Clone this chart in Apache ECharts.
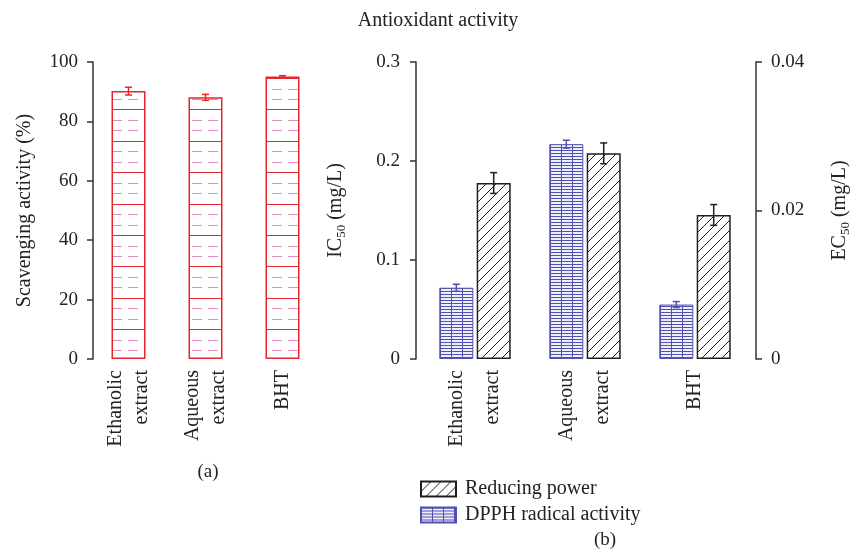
<!DOCTYPE html>
<html>
<head>
<meta charset="utf-8">
<script src="https://cdn.jsdelivr.net/npm/echarts@6/dist/echarts.min.js"></script>
<style>html,body{margin:0;padding:0;background:#fff}#c{width:858px;height:550px}</style>
</head>
<body>
<div id="c"></div>
<script>
// ---- data ----
const leftCategories = ['Ethanolic\nextract', 'Aqueous\nextract', 'BHT'];
const rightCategories = ['Ethanolic\nextract', 'Aqueous\nextract', 'BHT'];
const scavenging = [90.2, 88.1, 95.1];
const scavengingErr = [1.3, 1.0, 0.3];
const dpphIC50 = [0.072, 0.217, 0.055];
const dpphErr = [0.0035, 0.004, 0.003];
const reducingEC50 = [0.0237, 0.0277, 0.0194];
const reducingErr = [0.0014, 0.0014, 0.0014];
const leftAxisTicks = { min: 0, max: 100, interval: 20 };
const icAxisTicks = { min: 0, max: 0.3, interval: 0.1 };
const ecAxisTicks = { min: 0, max: 0.04, interval: 0.02 };
const legendNames = ['Reducing power', 'DPPH radical activity'];

// ---- styles ----
const FONT = 'Liberation Serif';
const TXT = '#222';
const AX = '#333';
const RED = '#e5262e';
const PINK = '#e78ac8';
const BLUE = '#5050b0';
const BAR_W = 34;
const BAR_GAP = 3.4;
const CAP = 3.5;
const TICK_FS = 19;
const LABEL_FS = 20;

function makeCanvas(w, h) { const c = document.createElement('canvas'); c.width = w; c.height = h; return c; }

function redPattern() {
  const period = 31.4, h = 157, w = 16;
  const c = makeCanvas(w, h), g = c.getContext('2d');
  g.fillStyle = '#fff'; g.fillRect(0, 0, w, h);
  for (let k = 0; k < 5; k++) {
    const y = 15.3 + k * period;
    g.fillStyle = RED; g.fillRect(0, Math.round(y) % h, w, 1);
    g.fillStyle = PINK;
    g.fillRect(0, Math.round(y + 10.4) % h, 10, 1);
    g.fillRect(0, Math.round(y + 20.9) % h, 10, 1);
  }
  return c;
}
function bluePattern() {
  const c = makeCanvas(11, 3), g = c.getContext('2d');
  g.fillStyle = '#eeeefc'; g.fillRect(0, 0, 11, 3);
  g.fillStyle = BLUE; g.fillRect(0, 0, 11, 1); g.fillRect(0, 0, 1, 3);
  return c;
}
function hatchPattern() {
  const s = 10;
  const c = makeCanvas(s, s), g = c.getContext('2d');
  g.fillStyle = '#fff'; g.fillRect(0, 0, s, s);
  g.strokeStyle = '#1e1e1e'; g.lineWidth = 1;
  g.beginPath();
  g.moveTo(0, s); g.lineTo(s, 0);
  g.moveTo(-1, 1); g.lineTo(1, -1);
  g.moveTo(s - 1, s + 1); g.lineTo(s + 1, s - 1);
  g.stroke();
  return c;
}

function errRender(shift, color) {
  return function (params, api) {
    const i = api.value(0), v = api.value(1), e = api.value(2);
    const top = api.coord([i, v + e]);
    const bot = api.coord([i, v - e]);
    const cx = top[0] + shift;
    const st = { stroke: color, lineWidth: 1.5 };
    return {
      type: 'group',
      children: [
        { type: 'line', shape: { x1: cx, y1: top[1], x2: cx, y2: bot[1] }, style: st },
        { type: 'line', shape: { x1: cx - CAP, y1: top[1], x2: cx + CAP, y2: top[1] }, style: st },
        { type: 'line', shape: { x1: cx - CAP, y1: bot[1], x2: cx + CAP, y2: bot[1] }, style: st }
      ]
    };
  };
}

const axisCommon = {
  axisLine: { show: true, lineStyle: { color: AX, width: 1.5 } },
  axisTick: { show: true, length: 6, lineStyle: { color: AX, width: 1.5 } },
  splitLine: { show: false },
  nameLocation: 'middle',
  nameRotate: 90
};
const richName = {
  a: { fontFamily: FONT, fontSize: LABEL_FS, color: TXT, lineHeight: 24 },
  b: { fontFamily: FONT, fontSize: 13, color: TXT, lineHeight: 24, verticalAlign: 'bottom', padding: [9, 0, 0, 0] }
};

const chart = echarts.init(document.getElementById('c'), null, { renderer: 'canvas' });
const option = {
  animation: false,
  backgroundColor: '#fff',
  textStyle: { fontFamily: FONT, color: TXT },
  grid: [
    { left: 90, top: 62, width: 231, height: 297 },
    { left: 420, top: 62, width: 330, height: 297 }
  ],
  xAxis: [
    { gridIndex: 0, type: 'category', data: leftCategories,
      axisLine: { show: false }, axisTick: { show: false },
      axisLabel: { rotate: 90, margin: 11, fontSize: LABEL_FS, lineHeight: 26, color: TXT, fontFamily: FONT, interval: 0 } },
    { gridIndex: 1, type: 'category', data: rightCategories,
      axisLine: { show: false }, axisTick: { show: false },
      axisLabel: { rotate: 90, margin: 11, fontSize: LABEL_FS, lineHeight: 36, color: TXT, fontFamily: FONT, interval: 0 } }
  ],
  yAxis: [
    Object.assign({ gridIndex: 0, type: 'value', position: 'left', offset: -3 }, leftAxisTicks, axisCommon, {
      axisLabel: { margin: 15, fontSize: TICK_FS, color: TXT, fontFamily: FONT },
      name: 'Scavenging activity (%)', nameGap: 58,
      nameTextStyle: { fontSize: LABEL_FS, color: TXT, fontFamily: FONT }
    }),
    Object.assign({ gridIndex: 1, type: 'value', position: 'left', offset: 4 }, icAxisTicks, axisCommon, {
      axisLabel: { margin: 16, fontSize: TICK_FS, color: TXT, fontFamily: FONT },
      name: '{a|IC}{b|50}{a| (mg/L)}', nameGap: 68,
      nameTextStyle: { rich: richName }
    }),
    Object.assign({ gridIndex: 1, type: 'value', position: 'right', offset: 6 }, ecAxisTicks, axisCommon, {
      axisLabel: { margin: 15, fontSize: TICK_FS, color: TXT, fontFamily: FONT },
      name: '{a|EC}{b|50}{a| (mg/L)}', nameGap: 72,
      nameTextStyle: { rich: richName }
    })
  ],
  legend: {
    orient: 'vertical', left: 415, top: 474,
    itemWidth: 35, itemHeight: 15, itemGap: 6,
    icon: 'rect',
    data: legendNames,
    textStyle: { fontSize: LABEL_FS, color: TXT, fontFamily: FONT, padding: [0, 0, 0, 4] }
  },
  series: [
    { type: 'bar', name: 'Scavenging', xAxisIndex: 0, yAxisIndex: 0, data: scavenging, barWidth: BAR_W,
      itemStyle: { color: { image: redPattern(), repeat: 'repeat' }, borderColor: RED, borderWidth: 1.5 } },
    { type: 'custom', name: 'scavErr', xAxisIndex: 0, yAxisIndex: 0, z: 5,
      data: scavenging.map((v, i) => [i, v, scavengingErr[i]]), encode: { x: 0, y: 1 },
      renderItem: errRender(0, RED) },
    { type: 'bar', name: legendNames[1], xAxisIndex: 1, yAxisIndex: 1, data: dpphIC50, barWidth: BAR_W, barGap: '10%',
      itemStyle: { color: { image: bluePattern(), repeat: 'repeat' }, borderColor: BLUE, borderWidth: 1 } },
    { type: 'bar', name: legendNames[0], xAxisIndex: 1, yAxisIndex: 2, data: reducingEC50, barWidth: BAR_W, barGap: '10%',
      itemStyle: { color: { image: hatchPattern(), repeat: 'repeat' }, borderColor: '#1e1e1e', borderWidth: 1.5 } },
    { type: 'custom', name: 'dpphErr', xAxisIndex: 1, yAxisIndex: 1, z: 5,
      data: dpphIC50.map((v, i) => [i, v, dpphErr[i]]), encode: { x: 0, y: 1 },
      renderItem: errRender(-(BAR_W + BAR_GAP) / 2, BLUE) },
    { type: 'custom', name: 'rpErr', xAxisIndex: 1, yAxisIndex: 2, z: 5,
      data: reducingEC50.map((v, i) => [i, v, reducingErr[i]]), encode: { x: 0, y: 1 },
      renderItem: errRender((BAR_W + BAR_GAP) / 2, '#1e1e1e') }
  ],
  graphic: [
    { type: 'text', style: { text: 'Antioxidant activity', x: 438, y: 21, fontSize: 20, fontFamily: FONT, fill: TXT, textAlign: 'center', textVerticalAlign: 'middle' } },
    { type: 'text', style: { text: '(a)', x: 208, y: 472, fontSize: TICK_FS, fontFamily: FONT, fill: TXT, textAlign: 'center', textVerticalAlign: 'middle' } },
    { type: 'text', style: { text: '(b)', x: 605, y: 540, fontSize: TICK_FS, fontFamily: FONT, fill: TXT, textAlign: 'center', textVerticalAlign: 'middle' } }
  ]
};
chart.setOption(option);
</script>
</body>
</html>
